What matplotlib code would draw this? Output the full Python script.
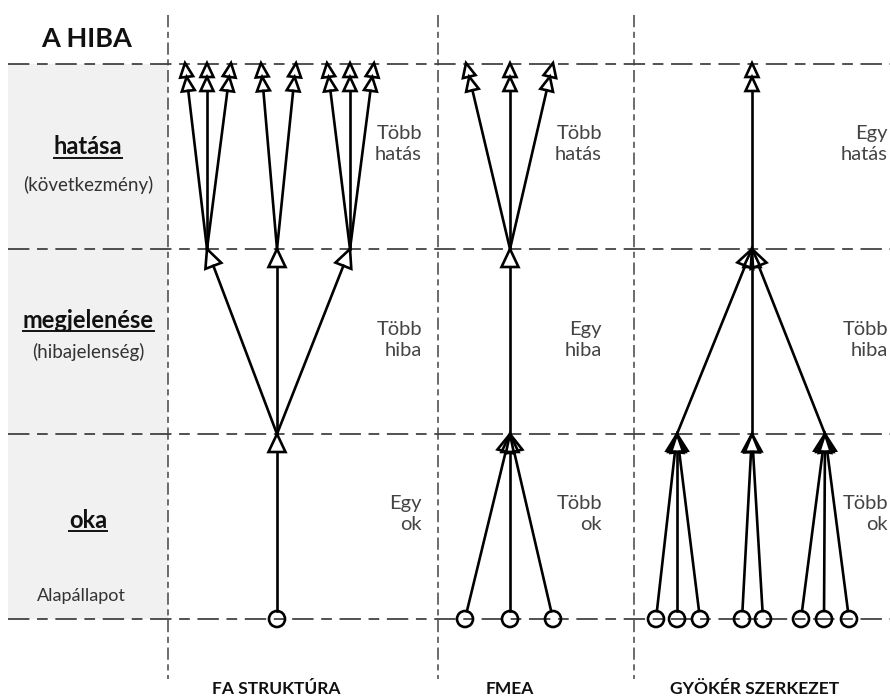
import numpy as np
import matplotlib.pyplot as plt
from matplotlib.patches import Polygon, Circle, Rectangle

plt.rcParams['font.family'] = ['Lato', 'DejaVu Sans']

# vertical levels of the diagram: effect / symptom / cause / base state
level_y = [64, 249, 434, 619]
column_x = [168, 438, 634]

# edges per level as (lower node x, upper node x)
fa_effect = [(207, 185), (207, 207), (207, 231), (277, 261), (277, 296),
             (350, 327), (350, 350), (350, 374)]
fa_symptom = [(277, 207), (277, 277), (277, 350)]
fa_cause = [(277, 277)]

fmea_effect = [(510, 466), (510, 510), (510, 553)]
fmea_symptom = [(510, 510)]
fmea_cause = [(465, 510), (510, 510), (553, 510)]

gy_effect = [(752, 752)]
gy_symptom = [(677, 752), (752, 752), (825, 752)]
gy_cause = [(656, 677), (677, 677), (700, 677), (742, 752), (763, 752),
            (801, 825), (824, 825), (849, 825)]

row_titles = ['hatása', 'megjelenése', 'oka']
row_subtitles = ['(következmény)', '(hibajelenség)', '']
column_titles = ['FA STRUKTÚRA', 'FMEA', 'GYÖKÉR SZERKEZET']
column_title_x = [276, 510, 755]
side_labels = [['Több\nhatás', 'Több\nhiba', 'Egy\nok'],
               ['Több\nhatás', 'Egy\nhiba', 'Több\nok'],
               ['Egy\nhatás', 'Több\nhiba', 'Több\nok']]
side_label_right = [422, 602, 888]

fig = plt.figure(figsize=(8.9, 6.98), dpi=100)
ax = fig.add_axes([0, 0, 1, 1])
ax.set_xlim(0, 890)
ax.set_ylim(698, 0)
ax.axis('off')

LW = 1.9


def triangle(tip, src, length=18, half=8.5):
    tip = np.array(tip, float)
    src = np.array(src, float)
    d = (tip - src) / np.linalg.norm(tip - src)
    base = tip - d * length
    n = np.array([-d[1], d[0]])
    ax.add_patch(Polygon([tip, base + n * half, base - n * half], closed=True,
                         facecolor='none', edgecolor='black', lw=LW, zorder=4,
                         joinstyle='miter'))
    return base


# grey label panel
ax.add_patch(Rectangle((8, level_y[0]), column_x[0] - 8, level_y[3] - level_y[0],
                       facecolor='#f1f1f1', edgecolor='none', zorder=0))

# dashed grid
for y in level_y:
    ax.plot([8, 890], [y, y], color='#222222', lw=1.1,
            linestyle=(0, (14, 5, 7, 5)), zorder=1)
for x in column_x:
    ax.plot([x, x], [15, 679], color='#444444', lw=1.1,
            linestyle=(0, (8, 3, 4, 3)), zorder=1)


def draw_column(effect, symptom, cause):
    # top level: double open arrowheads
    for lo, hi in effect:
        src = (lo, level_y[1])
        b1 = triangle((hi, level_y[0] - 1), src, 14, 6.5)
        b2 = triangle(b1, src, 14, 6.5)
        ax.plot([lo, b2[0]], [level_y[1], b2[1]], color='black', lw=LW, zorder=3)
    for lo, hi in symptom:
        b = triangle((hi, level_y[1]), (lo, level_y[2]))
        ax.plot([lo, b[0]], [level_y[2], b[1]], color='black', lw=LW, zorder=3)
    for lo, hi in cause:
        src = (lo, level_y[3])
        b = triangle((hi, level_y[2]), src)
        d = np.array([hi - lo, level_y[2] - level_y[3]], float)
        start = np.array(src) + d / np.linalg.norm(d) * 8
        ax.plot([start[0], b[0]], [start[1], b[1]], color='black', lw=LW, zorder=3)
        ax.add_patch(Circle(src, 8, facecolor='none',
                            edgecolor='black', lw=LW, zorder=4))


draw_column(fa_effect, fa_symptom, fa_cause)
draw_column(fmea_effect, fmea_symptom, fmea_cause)
draw_column(gy_effect, gy_symptom, gy_cause)

# left labels
ax.text(87, 39, 'A HIBA', fontsize=19.5, fontweight='bold', ha='center', va='center',
        color='#111111')
title_y = [147, 320, 520]
sub_y = [185, 352, None]
fig.canvas.draw()
renderer = fig.canvas.get_renderer()
inv = ax.transData.inverted()
for t, s, ty, sy in zip(row_titles, row_subtitles, title_y, sub_y):
    txt = ax.text(88, ty, t, fontsize=17, fontweight='bold', ha='center',
                  va='center', color='#111111')
    bb = txt.get_window_extent(renderer)
    (x0, _), (x1, _) = inv.transform([(bb.x0, bb.y0), (bb.x1, bb.y1)])
    ax.plot([x0, x1], [ty + 11, ty + 11], color='#111111', lw=1.4)
    if s:
        ax.text(88, sy, s, fontsize=13.5, ha='center', va='center', color='#333333')
ax.text(81, 596, 'Alapállapot', fontsize=13, ha='center', va='center', color='#333333')

# side labels
side_y = [144, 340, 514]
for labels, xr in zip(side_labels, side_label_right):
    for lab, y in zip(labels, side_y):
        ax.text(xr, y, lab, fontsize=14.5, ha='right', va='center', ma='right',
                color='#444444', linespacing=1.25)

# column titles
for t, x in zip(column_titles, column_title_x):
    ax.text(x, 689, t, fontsize=12.5, fontweight='bold', ha='center', va='center',
            color='#111111')

fig.savefig('out.png', dpi=100)
